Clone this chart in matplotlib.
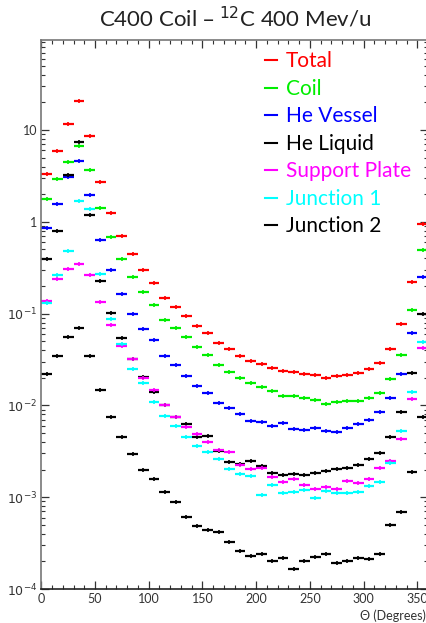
import numpy as np
import matplotlib
matplotlib.use("Agg")
import matplotlib.pyplot as plt
from matplotlib.lines import Line2D
from matplotlib.ticker import LogLocator, FixedLocator, NullFormatter, FuncFormatter

plt.rcParams["font.family"] = ["Lato", "DejaVu Sans"]

# bin centres (10 degree bins)
theta = np.arange(5, 360, 10)
half_width = 5

total = [3.3, 5.86, 11.6, 20.7, 8.6, 2.72, 1.26, 0.705, 0.443, 0.298, 0.217, 0.149,
         0.117, 0.0942, 0.0727, 0.0615, 0.0479, 0.0408, 0.0345, 0.0307, 0.0281, 0.0254,
         0.0239, 0.0229, 0.022, 0.0216, 0.020, 0.0208, 0.0216, 0.0227, 0.0247, 0.029,
         0.0411, 0.0764, 0.221, 0.953]
coil = [1.76, 2.95, 4.48, 6.64, 3.7, 1.40, 0.683, 0.39, 0.25, 0.171, 0.125, 0.0859,
        0.0692, 0.0552, 0.043, 0.0354, 0.0276, 0.0233, 0.0197, 0.0174, 0.016, 0.0144,
        0.0128, 0.0127, 0.0121, 0.0116, 0.0103, 0.0109, 0.0111, 0.0112, 0.0119, 0.0137,
        0.0192, 0.0357, 0.109, 0.497]
he_vessel = [0.863, 1.55, 3.05, 4.59, 1.97, 0.638, 0.301, 0.165, 0.0998, 0.0685, 0.0512,
             0.0348, 0.0273, 0.0211, 0.0163, 0.0136, 0.0105, 0.00944, 0.0081, 0.00676,
             0.00654, 0.00597, 0.00648, 0.00558, 0.0054, 0.00571, 0.00522, 0.00509,
             0.00567, 0.00622, 0.00693, 0.00841, 0.0122, 0.022, 0.0615, 0.252]
he_liquid = [0.39, 0.794, 3.26, 7.46, 1.19, 0.228, 0.101, 0.0547, 0.0318, 0.0206, 0.0141,
             0.0101, 0.00753, 0.00627, 0.00456, 0.00464, 0.00319, 0.00242, 0.0023,
             0.00248, 0.00217, 0.00182, 0.00176, 0.0018, 0.00173, 0.00182, 0.00191,
             0.00203, 0.00208, 0.00224, 0.00261, 0.00301, 0.00449, 0.00841, 0.0224, 0.099]
support_plate = [0.137, 0.236, 0.309, 0.344, 0.263, 0.133, 0.0757, 0.0444, 0.0318, 0.020,
                 0.0146, 0.0100, 0.00753, 0.00582, 0.00488, 0.00396, 0.00327, 0.00313,
                 0.00223, 0.00203, 0.00207, 0.00165, 0.00147, 0.00157, 0.00136, 0.00122,
                 0.00128, 0.00122, 0.0015, 0.00142, 0.00159, 0.00207, 0.00248, 0.00434,
                 0.0117, 0.0419]
junction1 = [0.131, 0.263, 0.481, 1.67, 1.37, 0.27, 0.0867, 0.0463, 0.0249, 0.0174, 0.0109,
             0.0077, 0.00601, 0.00449, 0.00361, 0.00309, 0.00259, 0.00201, 0.00179, 0.0017,
             0.00107, 0.00137, 0.0011, 0.00113, 0.00119, 0.000988, 0.00117, 0.00112,
             0.00111, 0.00113, 0.00133, 0.00147, 0.00234, 0.0053, 0.0141, 0.0487]
junction2 = [0.022, 0.0348, 0.056, 0.0692, 0.0343, 0.0146, 0.00741, 0.00456, 0.00296,
             0.00196, 0.00158, 0.00114, 0.000879, 0.000604, 0.00049, 0.000436, 0.000421,
             0.000325, 0.000262, 0.000227, 0.000239, 0.000203, 0.000216, 0.000167, 0.0002,
             0.000221, 0.000243, 0.000192, 0.000203, 0.000218, 0.000211, 0.000243,
             0.000494, 0.000685, 0.0019, 0.0075]

series = [
    ("Total", total, "#ff0000"),
    ("Coil", coil, "#00ee00"),
    ("He Vessel", he_vessel, "#0000ff"),
    ("He Liquid", he_liquid, "#000000"),
    ("Support Plate", support_plate, "#ff00ff"),
    ("Junction 1", junction1, "#00ffff"),
    ("Junction 2", junction2, "#000000"),
]

W, H = 427, 623
fig = plt.figure(figsize=(W / 100, H / 100), dpi=100)
ax = fig.add_axes([41.3 / W, 34 / H, (428 - 41.3) / W, (589 - 39.5) / H])

for name, vals, col in series:
    ax.errorbar(theta, vals, xerr=half_width, fmt="|", ms=3.5, mew=1.2,
                color=col, elinewidth=1.6, capsize=0)

ax.set_xlim(0, 360)
ax.set_ylim(1e-4, 97)
ax.set_yscale("log")

ax.xaxis.set_major_locator(FixedLocator([0, 50, 100, 150, 200, 250, 300, 350]))
ax.xaxis.set_minor_locator(FixedLocator(np.arange(0, 361, 10)))
ax.yaxis.set_major_locator(LogLocator(base=10, numticks=10))
ax.yaxis.set_minor_locator(LogLocator(base=10, subs=np.arange(2, 10), numticks=20))
ax.yaxis.set_minor_formatter(NullFormatter())


def ylab(v, pos):
    if v >= 1:
        return "%d" % round(v)
    return r"$10^{%d}$" % round(np.log10(v))


ax.yaxis.set_major_formatter(FuncFormatter(ylab))

ax.tick_params(which="both", direction="in", top=True, right=True,
               labelsize=9, colors="#333333", pad=3)
ax.tick_params(which="major", length=6, width=0.9)
ax.tick_params(which="minor", length=3, width=0.8)
for sp in ax.spines.values():
    sp.set_color("#777777")
    sp.set_linewidth(1.2)
ax.spines["bottom"].set_color("#222222")

fig.text(235 / W, 1 - 18 / H, "C400 Coil – $^{12}$C 400 Mev/u", ha="center",
         va="center", fontsize=16, color="#222222")
fig.text(360 / W, 1 - 616 / H, "Θ (Degrees)", ha="left", va="center",
         fontsize=9, color="#333333")

handles = [Line2D([], [], color=c, lw=1.5) for _, _, c in series]
labels = [n for n, _, _ in series]
leg = ax.legend(handles, labels, loc="upper left",
                bbox_to_anchor=(255 / W, 1 - 41 / H), bbox_transform=fig.transFigure,
                frameon=False, fontsize=15, handlelength=0.55, handletextpad=0.45,
                labelspacing=0.36, labelcolor="linecolor", borderpad=0)

fig.savefig("out.png", dpi=100)
